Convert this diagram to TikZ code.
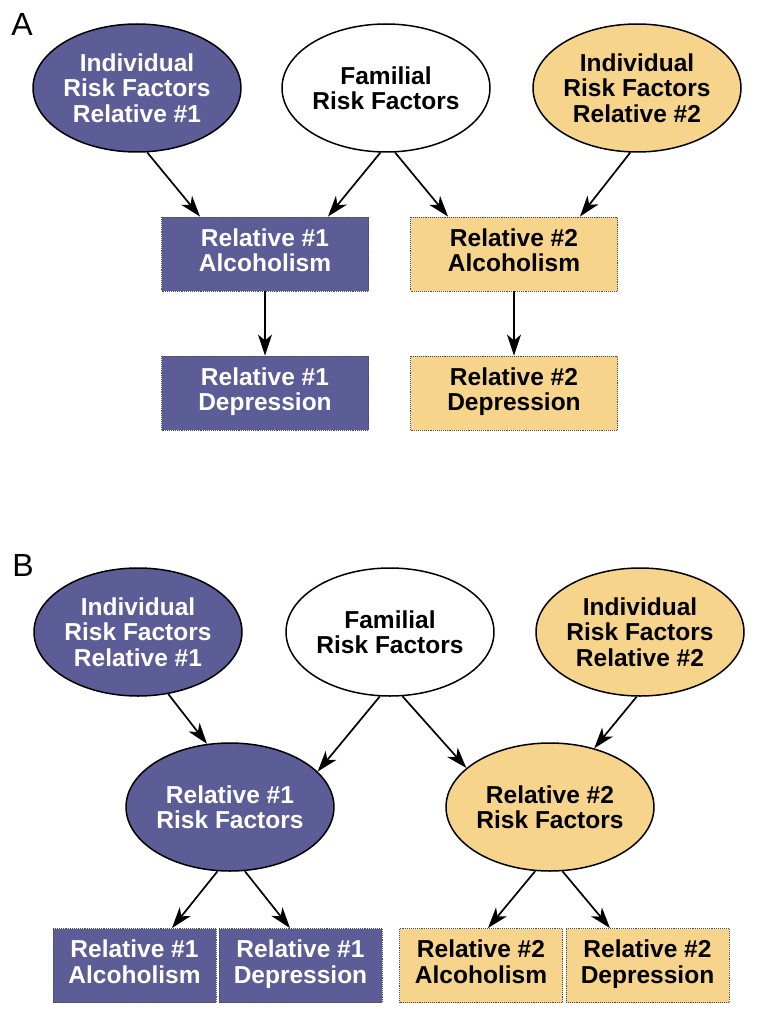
\documentclass[tikz,border=0pt]{standalone}
\usepackage{fontspec}
\setmainfont{Liberation Sans}
\usetikzlibrary{shapes.geometric,arrows.meta}
\definecolor{relone}{RGB}{92,92,150}
\definecolor{reltwo}{RGB}{247,212,140}

\begin{document}
\begin{tikzpicture}[x=1pt,y=-1pt,
		every node/.style={font=\fontsize{24.5}{25.5}\selectfont\bfseries, align=center},
		oval/.style={ellipse, draw, line width=1.5pt, minimum width=207pt, minimum height=128pt, inner sep=0pt},
		box/.style={rectangle, draw=black!70, densely dotted, line width=0.9pt, minimum height=74pt, inner sep=0pt, execute at end node=\strut},
		one/.style={fill=relone, text=white},
		two/.style={fill=reltwo, text=black},
		arr/.style={-{Stealth[length=21pt,width=14pt,inset=6pt]}, line width=1.7pt}]
			\useasboundingbox (0,0) rectangle (759,1016);

			% panel A
			\node[font=\fontsize{32}{34}\selectfont] (labA) at (22,24) {A};
			\node[oval,one] (indA1) at (137,88) {Individual\\Risk Factors\\Relative \#1};
			\node[oval,fill=white] (famA) at (386,88) {Familial\\Risk Factors};
			\node[oval,two] (indA2) at (637,88) {Individual\\Risk Factors\\Relative \#2};
			\node[box,one,minimum width=207pt] (alcA1) at (265,254) {Relative \#1\\Alcoholism};
			\node[box,two,minimum width=207pt] (alcA2) at (514,254) {Relative \#2\\Alcoholism};
			\node[box,one,minimum width=207pt] (depA1) at (265,393) {Relative \#1\\Depression};
			\node[box,two,minimum width=207pt] (depA2) at (514,393) {Relative \#2\\Depression};

			\draw[arr] (indA1.-81) -- ([xshift=-65pt]alcA1.north);
			\draw[arr] (famA.-95) -- ([xshift=63pt]alcA1.north);
			\draw[arr] (famA.-82) -- ([xshift=-66pt]alcA2.north);
			\draw[arr] (indA2.-96) -- ([xshift=66pt]alcA2.north);
			\foreach \n in {1,2}
			{
				\draw[arr] (alcA\n.south) -- (depA\n.north);
			}

			% panel B
			\node[font=\fontsize{32}{34}\selectfont] (labB) at (23,565) {B};
			\node[oval,one] (indB1) at (138,632) {Individual\\Risk Factors\\Relative \#1};
			\node[oval,fill=white] (famB) at (390,632) {Familial\\Risk Factors};
			\node[oval,two] (indB2) at (640,632) {Individual\\Risk Factors\\Relative \#2};
			\node[oval,one] (rfB1) at (230,807) {Relative \#1\\Risk Factors};
			\node[oval,two] (rfB2) at (550,807) {Relative \#2\\Risk Factors};
			\node[box,one,minimum width=163pt] (alcB1) at (134.5,965.5) {Relative \#1\\Alcoholism};
			\node[box,one,minimum width=163pt] (depB1) at (300.5,965.5) {Relative \#1\\Depression};
			\node[box,two,minimum width=163pt] (alcB2) at (481,965.5) {Relative \#2\\Alcoholism};
			\node[box,two,minimum width=163pt] (depB2) at (647.5,965.5) {Relative \#2\\Depression};

			\draw[arr] (indB1.-64) -- (rfB1.110);
			\draw[arr] (famB.-99) -- (rfB1.22);
			\draw[arr] (famB.-79) -- (rfB2.155);
			\draw[arr] (indB2.-93) -- (rfB2.53);
			\draw[arr] (rfB1.-101) -- ([xshift=37.5pt]alcB1.north);
			\draw[arr] (rfB1.-77) -- ([xshift=-10.5pt]depB1.north);
			\draw[arr] (rfB2.-103) -- ([xshift=7pt]alcB2.north);
			\draw[arr] (rfB2.-79) -- ([xshift=-37.5pt]depB2.north);
		\end{tikzpicture}
\end{document}
